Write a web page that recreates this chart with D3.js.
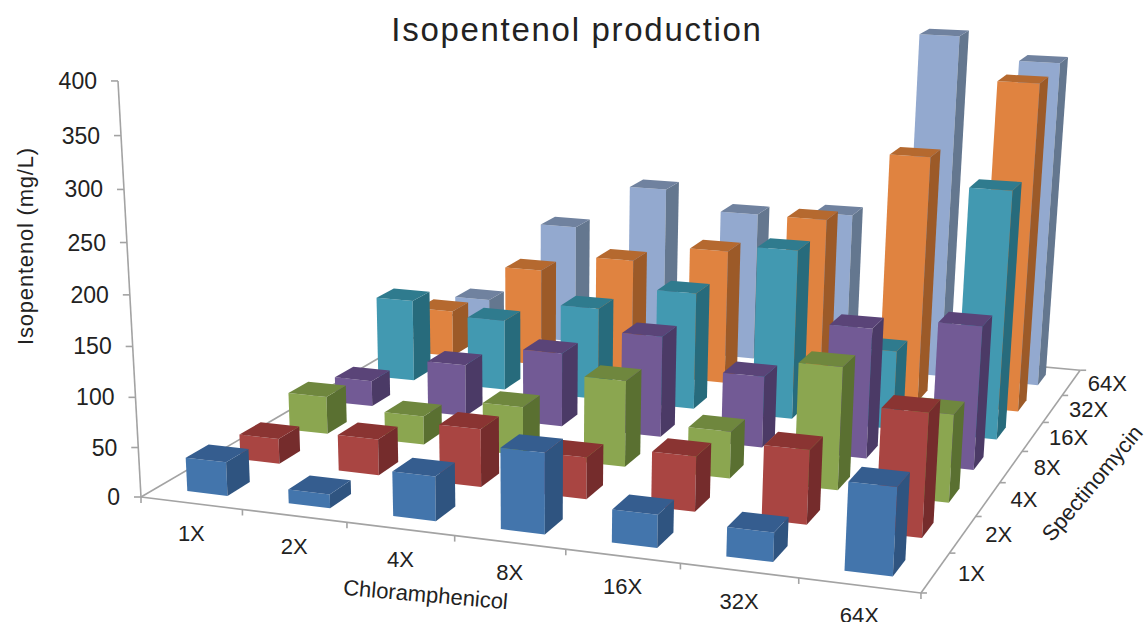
<!DOCTYPE html>
<html>
<head>
<meta charset="utf-8">
<script src="https://cdn.jsdelivr.net/npm/d3@7"></script>
<style>
    body { margin: 0; background: #fff; }
    text { font-family: "Liberation Sans", Arial, sans-serif; fill: #222; }
</style>
</head>
<body>
<div class="chart"></div>
<script>
const chloramphenicol = ["1X", "2X", "4X", "8X", "16X", "32X", "64X"];
const spectinomycin = ["1X", "2X", "4X", "8X", "16X", "32X", "64X"];
const zTicks = [0, 50, 100, 150, 200, 250, 300, 350, 400];

// one list per spectinomycin level, in chloramphenicol order
const spec1X = [34, 14, 44, 79, 32, 28, 83];
const spec2X = [26, 37, 59, 42, 55, 73, 120];
const spec4X = [40, 30, 51, 89, 48, 124, 88];
const spec8X = [28, 56, 79, 107, 75, 135, 147];
const spec16X = [91, 78, 101, 127, 182, 84, 260];
const spec32X = [53, 110, 130, 149, 192, 267, 350];
const spec64X = [41, 137, 189, 168, 175, 378, 355];
const seriesValues = [spec1X, spec2X, spec4X, spec8X, spec16X, spec32X, spec64X];

// front, top, side
const seriesColors = [
    ["#4375ac", "#355d8f", "#2f5480"],
    ["#a94542", "#8a3432", "#752c2c"],
    ["#8ba650", "#6f873e", "#5a7031"],
    ["#725a95", "#5a4478", "#4b3a66"],
    ["#4299b1", "#2f7b8e", "#276b7c"],
    ["#e08340", "#b5692f", "#9c5a28"],
    ["#93a9cf", "#70829f", "#64778f"]
];

const svgWidth = 1145;
const svgHeight = 622;

// perspective camera worked out from the axis corners and tick spacing
const camera = [
    [685.1, 440.9, -29.5, 141],
    [34.9, -97.6, -420.5, 497],
    [-0.103, 0.276, -0.055, 1]
];
const project = (x, y, z) => {
    const row = r => r[0]*x + r[1]*y + r[2]*z + r[3];
    const w = row(camera[2]);
    return [row(camera[0])/w, row(camera[1])/w];
};

const xScale = d3.scaleBand().domain(chloramphenicol).range([0, 1]).paddingInner(0.6).paddingOuter(0.3);
const yScale = d3.scaleBand().domain(spectinomycin).range([0, 1]).paddingInner(0.58).paddingOuter(0.29);
const zScale = d3.scaleLinear().domain([0, 400]).range([0, 1]);

const svg = d3.select(".chart")
    .append("svg")
    .attr("width", svgWidth)
    .attr("height", svgHeight)
    .style("display", "block");

const axisLine = d3.line();
const drawLine = (points) => {
    svg.append("path")
        .attr("d", axisLine(points))
        .attr("fill", "none")
        .attr("stroke", "#a3a3a3")
        .attr("stroke-width", 1.6);
};

// floor edges and the three axes
drawLine([project(0, 0, 0), project(0, 1, 0)]);
drawLine([project(0, 1, 0), project(1, 1, 0)]);
drawLine([project(0, 0, 0), project(1, 0, 0)]);
drawLine([project(1, 0, 0), project(1, 1, 0)]);
drawLine([project(0, 0, 0), project(0, 0, 1)]);

zTicks.forEach(t => {
    const p = project(0, 0, zScale(t));
    drawLine([p, [p[0]-7, p[1]]]);
    svg.append("text")
        .attr("x", p[0]-21)
        .attr("y", p[1]+8)
        .attr("text-anchor", "end")
        .style("font-size", "23px")
        .text(t);
});

d3.range(chloramphenicol.length + 1).forEach(i => {
    const p = project(i*xScale.step(), 0, 0);
    drawLine([p, [p[0], p[1]+6]]);
});
d3.range(spectinomycin.length + 1).forEach(i => {
    const p = project(1, i*yScale.step(), 0);
    drawLine([p, [p[0]+6, p[1]]]);
});

chloramphenicol.forEach(d => {
    const p = project(xScale(d) + xScale.bandwidth()/2, 0, 0);
    svg.append("text")
        .attr("x", p[0])
        .attr("y", p[1]+38)
        .attr("text-anchor", "middle")
        .style("font-size", "22px")
        .text(d);
});
spectinomycin.forEach(d => {
    const p = project(1, yScale(d) + yScale.bandwidth()/2, 0);
    svg.append("text")
        .attr("x", p[0]+36)
        .attr("y", p[1]+8)
        .attr("text-anchor", "middle")
        .style("font-size", "22px")
        .text(d);
});

// bars, back row first and left to right so nearer ones cover the others
const polygon = (points, fill) => {
    svg.append("polygon")
        .attr("class", "bar-face")
        .attr("points", points.join(" "))
        .attr("fill", fill);
};

d3.range(spectinomycin.length).reverse().forEach(j => {
    chloramphenicol.forEach((c, i) => {
        const x0 = xScale(c);
        const x1 = x0 + xScale.bandwidth();
        const y0 = yScale(spectinomycin[j]);
        const y1 = y0 + yScale.bandwidth();
        const z1 = zScale(seriesValues[j][i]);
        const colors = seriesColors[j];
        polygon([project(x0, y0, 0), project(x1, y0, 0), project(x1, y0, z1), project(x0, y0, z1)], colors[0]);
        polygon([project(x1, y0, 0), project(x1, y1, 0), project(x1, y1, z1), project(x1, y0, z1)], colors[2]);
        polygon([project(x0, y0, z1), project(x1, y0, z1), project(x1, y1, z1), project(x0, y1, z1)], colors[1]);
    });
});

svg.append("text")
    .attr("x", 577)
    .attr("y", 41)
    .attr("text-anchor", "middle")
    .style("font-size", "33px")
    .style("letter-spacing", "1.7px")
    .text("Isopentenol production");

svg.append("text")
    .attr("transform", "translate(33, 246) rotate(-90)")
    .attr("text-anchor", "middle")
    .style("font-size", "22px")
    .style("letter-spacing", "0.8px")
    .text("Isopentenol (mg/L)");

svg.append("text")
    .attr("transform", "translate(425, 602) rotate(5)")
    .attr("text-anchor", "middle")
    .style("font-size", "22px")
    .text("Chloramphenicol");

svg.append("text")
    .attr("transform", "translate(1098, 488) rotate(-50)")
    .attr("text-anchor", "middle")
    .style("font-size", "22px")
    .text("Spectinomycin");
</script>
</body>
</html>
